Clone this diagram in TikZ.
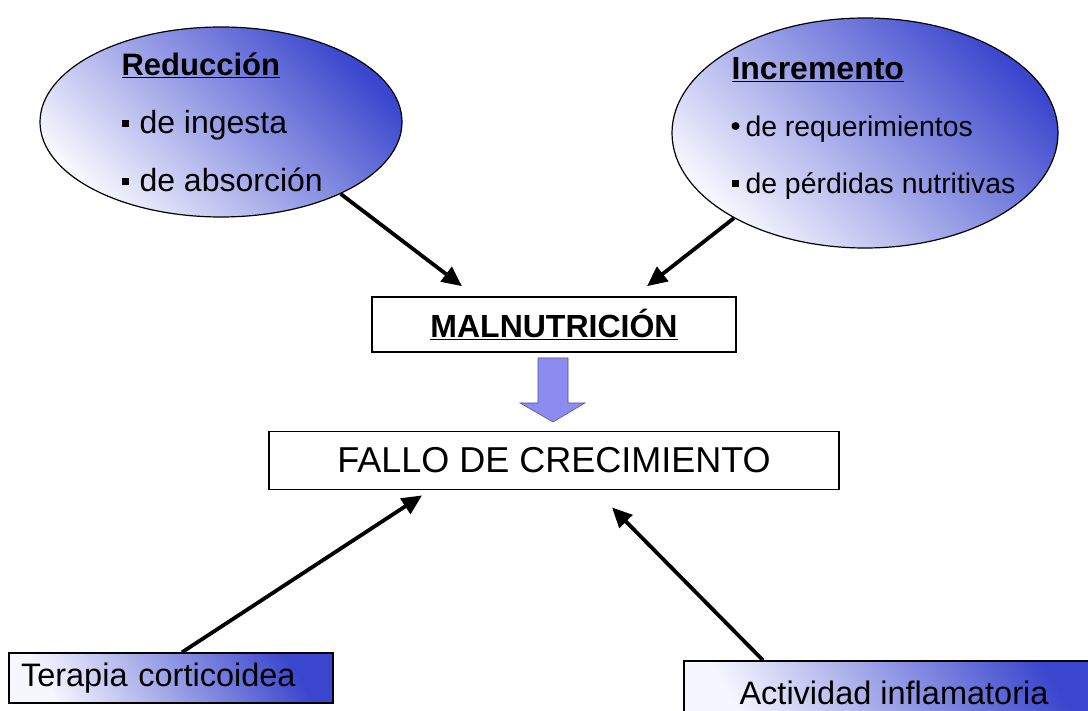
\documentclass[tikz,border=0pt]{standalone}
\usepackage{fontspec}
\setmainfont{Liberation Sans}
\usepackage{xcolor}
\usepackage{tikz}
\usetikzlibrary{arrows.meta,positioning,shapes.geometric}

\definecolor{ellblue}{RGB}{58,70,205}
\definecolor{elllight}{RGB}{246,246,254}
\definecolor{arrlav}{RGB}{140,140,240}
\newcommand{\sqbul}[1]{\raisebox{6pt}{\rule{7pt}{7pt}}\hspace{#1}}
\newcommand{\rdbul}[1]{\raisebox{6pt}{\tikz\fill (0,0) circle (4pt);}\hspace{#1}}

\begin{document}
\begin{tikzpicture}[x=1pt, y=-1pt, node distance=78pt]
        \tikzset{cause/.style={ellipse, draw, line width=1.2pt, inner sep=0pt,
            bottom color=elllight, middle color=ellblue!30!white, top color=ellblue, shading angle=-45}}
        \tikzset{ctext/.style={anchor=west, align=left}}
        \tikzset{plainbox/.style={rectangle, draw, line width=1.6pt, fill=white}}
        \tikzset{factor/.style={rectangle, draw, line width=1.4pt,
            bottom color=elllight, middle color=ellblue!22!white, top color=ellblue, shading angle=-60}}
        \tikzset{link/.style={-{Triangle[length=20pt,width=18pt]}, line width=3.8pt}}

        \useasboundingbox (0,0) rectangle (1088,711);

        \node [cause, minimum width=362pt, minimum height=190pt] (redu) at (221,122) {};
        \node [cause, minimum width=386pt, minimum height=230pt] (incr) at (865,133) {};
        \node [ctext, font=\fontsize{32}{58}\selectfont] (redutxt) at ([xshift=-103]redu.center)
            {\underline{\textbf{\fontsize{31}{58}\selectfont Reducción}}\\ \sqbul{11pt}de ingesta\\ \sqbul{11pt}de absorción};
        \node [ctext, font=\fontsize{28.4}{57}\selectfont] (incrtxt) at ([shift={(-137,-5)}]incr.center)
            {\underline{\textbf{\fontsize{32}{57}\selectfont Incremento}}\\ \rdbul{6pt}de requerimientos\\ \sqbul{7pt}de pérdidas nutritivas};

        \node [plainbox, minimum width=364pt, minimum height=55pt, font=\fontsize{32}{38}\selectfont\bfseries] (maln) at (554,324.5)
            {\underline{MALNUTRICIÓN}};
        \node [plainbox, minimum width=570pt, minimum height=58pt, font=\fontsize{36}{42}\selectfont, below=78pt of maln] (fallo)
            {FALLO DE CRECIMIENTO};

        \node [factor, text width=300pt, inner xsep=12pt, minimum height=50pt, align=left, font=\fontsize{32.5}{38}\selectfont] (tera) at (171,678)
            {Terapia corticoidea};
        \node [factor, minimum width=420pt, minimum height=64pt, font=\fontsize{32.5}{38}\selectfont] (acti) at (894,693)
            {Actividad inflamatoria};

        % block arrow
        \filldraw [fill=arrlav, draw=arrlav!60!black, line width=0.6pt]
            (538,358) -- (568,358) -- (568,403) -- (585,403) -- (553,422) -- (520,403) -- (538,403) -- cycle;

        \draw [link] (redu.-31) -- ([shift={(-92,-10)}]maln.north);
        \draw [link] (incr.213) -- ([shift={(93,-10)}]maln.north);
        \draw [link] ([xshift=11]tera.north) -- ([shift={(-132,5)}]fallo.south);
        \draw [link] ([xshift=-131]acti.north) -- ([shift={(58,17)}]fallo.south);
    \end{tikzpicture}
\end{document}
